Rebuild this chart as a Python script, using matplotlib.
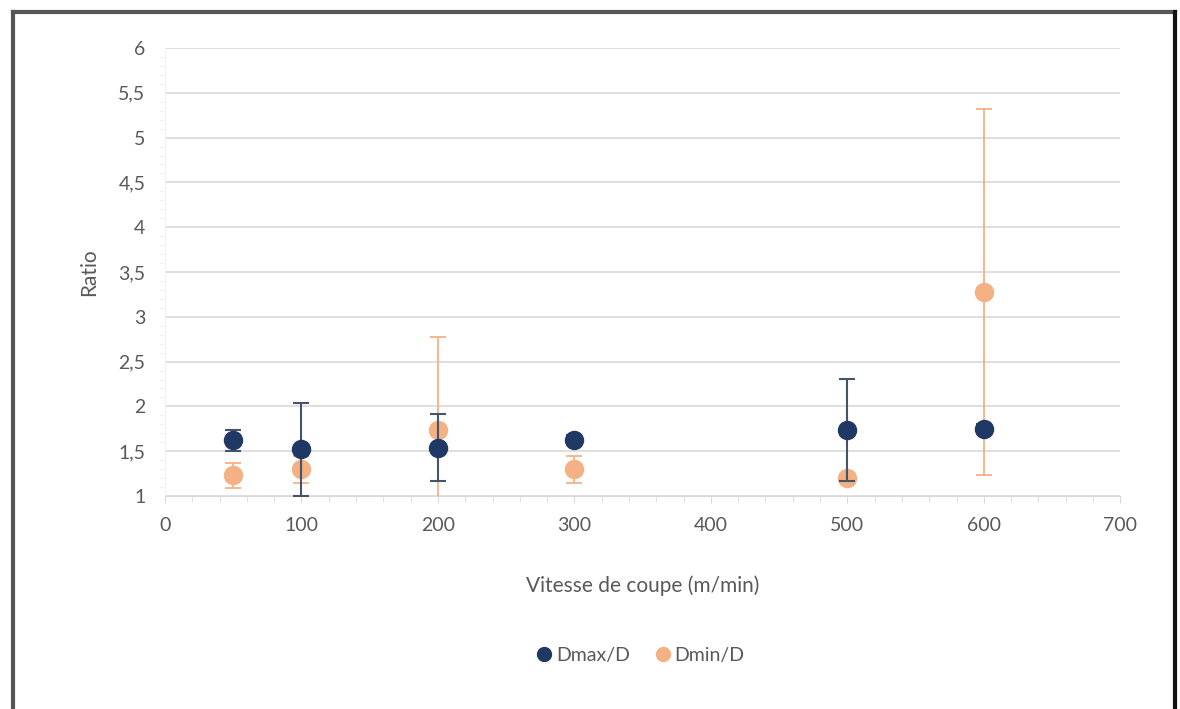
import matplotlib
matplotlib.use("Agg")
import matplotlib.pyplot as plt
from matplotlib.lines import Line2D
from matplotlib.ticker import MultipleLocator, FuncFormatter


speeds = [50, 100, 200, 300, 500, 600]

dmax_ratio = [1.62, 1.52, 1.54, 1.63, 1.74, 1.75]
dmax_err = [0.12, 0.52, 0.37, 0.05, 0.57, 0.05]

dmin_ratio = [1.23, 1.30, 1.74, 1.30, 1.20, 3.28]
dmin_err = [0.14, 0.15, 1.03, 0.15, 0.03, 2.04]

series_labels = ["Dmax/D", "Dmin/D"]

DARK = "#1f3864"
ORANGE = "#f4b183"
TEXT = "#595959"
GRID = "#d9d9d9"

plt.rcParams["font.family"] = ["Lato", "DejaVu Sans"]


def comma(v, pos):
    s = f"{v:g}"
    return s.replace(".", ",")


def main():
    fig = plt.figure(figsize=(11.8, 7.09), dpi=100)
    ax = fig.add_axes([0.1398, 0.3004, 0.8096, 0.6319])

    ax.errorbar(speeds, dmin_ratio, yerr=dmin_err, fmt="o", color=ORANGE,
                ecolor=ORANGE, elinewidth=1.3, capsize=5.5, capthick=1.3,
                markersize=13, label=series_labels[1], zorder=3)
    ax.errorbar(speeds, dmax_ratio, yerr=dmax_err, fmt="o", color=DARK,
                ecolor="#44546a", elinewidth=1.5, capsize=5.5, capthick=1.5,
                markersize=13, label=series_labels[0], zorder=4)

    ax.set_xlim(0, 700)
    ax.set_ylim(1, 6)
    ax.xaxis.set_major_locator(MultipleLocator(100))
    ax.xaxis.set_minor_locator(MultipleLocator(20))
    ax.yaxis.set_major_locator(MultipleLocator(0.5))
    ax.yaxis.set_minor_locator(MultipleLocator(0.1))
    ax.yaxis.set_major_formatter(FuncFormatter(comma))

    ax.grid(True, which="major", axis="y", color=GRID, linewidth=1.2)
    ax.set_axisbelow(True)

    for side in ["top", "right"]:
        ax.spines[side].set_visible(False)
    ax.spines["bottom"].set_color(GRID)
    ax.spines["left"].set_color("#f2f2f2")

    ax.tick_params(axis="both", which="both", colors=GRID, labelcolor=TEXT,
                   labelsize=14)
    ax.tick_params(axis="x", which="major", length=5, pad=10)
    ax.tick_params(axis="x", which="minor", length=4)
    ax.tick_params(axis="y", which="major", length=0, pad=14)
    ax.tick_params(axis="y", which="minor", length=4, colors="#ececec")

    ax.set_xlabel("Vitesse de coupe (m/min)", fontsize=15, color=TEXT,
                  labelpad=30)
    ax.set_ylabel("Ratio", fontsize=15, color=TEXT, labelpad=14)

    handles = [
        Line2D([], [], marker="o", linestyle="none", color=DARK, markersize=10),
        Line2D([], [], marker="o", linestyle="none", color=ORANGE, markersize=10),
    ]
    fig.legend(handles, series_labels, loc="center", ncol=2,
               bbox_to_anchor=(0.542, 0.076), frameon=False, fontsize=14,
               labelcolor=TEXT, handletextpad=0.1, columnspacing=1.2,
               handlelength=1.0)

    # outer frame
    fig.add_artist(Line2D([0.011, 0.011], [0, 0.983], transform=fig.transFigure,
                          color="#555555", linewidth=3))
    fig.add_artist(Line2D([0.011, 0.996], [0.983, 0.983], transform=fig.transFigure,
                          color="#555555", linewidth=3))
    fig.add_artist(Line2D([0.996, 0.996], [0, 0.983], transform=fig.transFigure,
                          color="#111111", linewidth=3))

    fig.savefig("out.png", dpi=100, facecolor="white")
    plt.close(fig)


if __name__ == "__main__":
    main()
